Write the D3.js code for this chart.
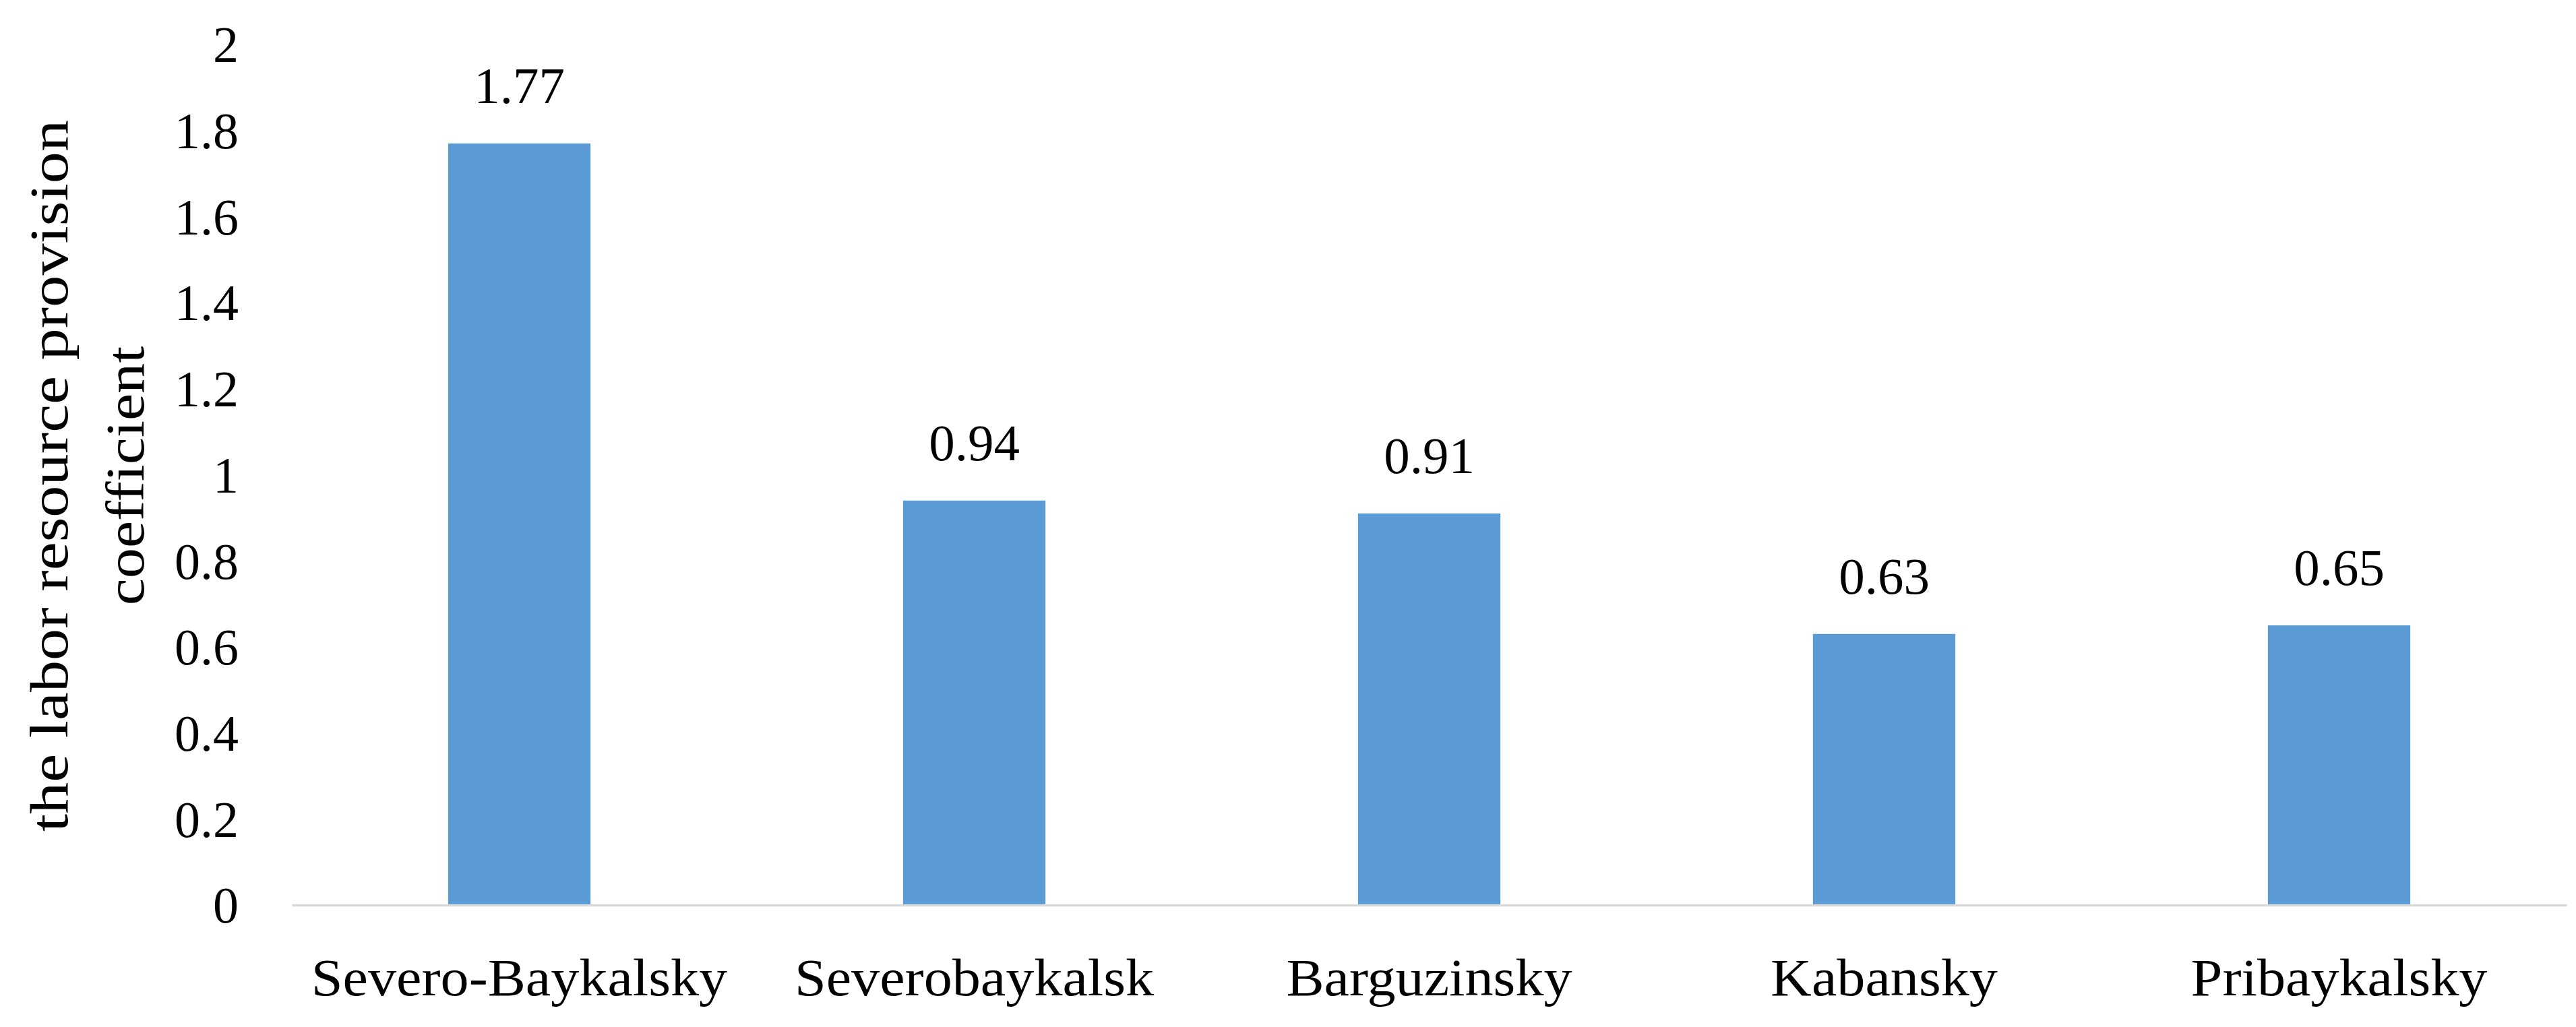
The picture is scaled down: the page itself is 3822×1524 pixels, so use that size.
<!DOCTYPE html>
<html>
<head>
<meta charset="utf-8">
<script src="https://cdn.jsdelivr.net/npm/d3@7/dist/d3.min.js"></script>
<style>
  html, body { margin: 0; padding: 0; background: #ffffff; }
  svg { display: block; }
  text { font-family: "Liberation Serif", "Times New Roman", serif; fill: #000; }
</style>
</head>
<body>
<svg id="chart" width="3822" height="1524"></svg>
<script>
const categories = ["Severo-Baykalsky", "Severobaykalsk", "Barguzinsky", "Kabansky", "Pribaykalsky"];
const values = [1.77, 0.94, 0.91, 0.63, 0.65];
const valueLabels = ["1.77", "0.94", "0.91", "0.63", "0.65"];
const yTicks = [0, 0.2, 0.4, 0.6, 0.8, 1, 1.2, 1.4, 1.6, 1.8, 2];
const yTickLabels = ["0", "0.2", "0.4", "0.6", "0.8", "1", "1.2", "1.4", "1.6", "1.8", "2"];
const titleLines = ["the labor resource provision", "coefficient"];

const W = 3822, H = 1524;
const svg = d3.select("#chart");
svg.append("rect").attr("width", W).attr("height", H).attr("fill", "#fff");

const x = d3.scaleBand().domain(categories).range([433, 3808]).paddingInner(0.687).paddingOuter(0.3435);
const y = d3.scaleLinear().domain([0, 2]).range([1343, 66]);

// bars
svg.append("g").selectAll("rect").data(values).join("rect")
  .attr("x", (d, i) => x(categories[i]))
  .attr("y", d => y(d))
  .attr("width", x.bandwidth())
  .attr("height", d => y(0) - y(d))
  .attr("fill", "#5B9BD5");

// x axis line (baseline)
const xAxis = d3.axisBottom(x).tickSize(0).tickFormat("");
const gx = svg.append("g").attr("transform", `translate(0,${y(0)})`).call(xAxis);
gx.select(".domain").attr("stroke", "#D9D9D9").attr("stroke-width", 3.5);

// y tick labels
const yAxis = d3.axisLeft(y).tickValues(yTicks).tickSize(0).tickPadding(0)
  .tickFormat((d, i) => yTickLabels[i]);
const gy = svg.append("g").attr("transform", "translate(354,0)").call(yAxis);
gy.select(".domain").remove();
gy.selectAll("text")
  .attr("font-family", "Liberation Serif")
  .attr("font-size", 76)
  .attr("fill", "#000")
  .attr("dy", "0.34em")
  .attr("x", 0);

// category labels
svg.append("g").selectAll("text").data(categories).join("text")
  .attr("transform", d => `translate(${x(d) + x.bandwidth() / 2},1477) scale(1.08,1)`)
  .attr("text-anchor", "middle")
  .attr("font-size", 78)
  .text(d => d);

// value labels
svg.append("g").selectAll("text").data(values).join("text")
  .attr("x", (d, i) => x(categories[i]) + x.bandwidth() / 2)
  .attr("y", d => y(d) - 60)
  .attr("text-anchor", "middle")
  .attr("font-size", 77)
  .text((d, i) => valueLabels[i]);

// y axis title (two lines, rotated)
const cy = 706;
const baselines = [100, 213];
const stretch = [1.18, 1.13];
svg.append("g").selectAll("text").data(titleLines).join("text")
  .attr("transform", (d, i) => `translate(${baselines[i]},${cy}) rotate(-90) scale(${stretch[i]},1)`)
  .attr("text-anchor", "middle")
  .attr("font-size", 80)
  .text(d => d);
</script>
</body>
</html>
